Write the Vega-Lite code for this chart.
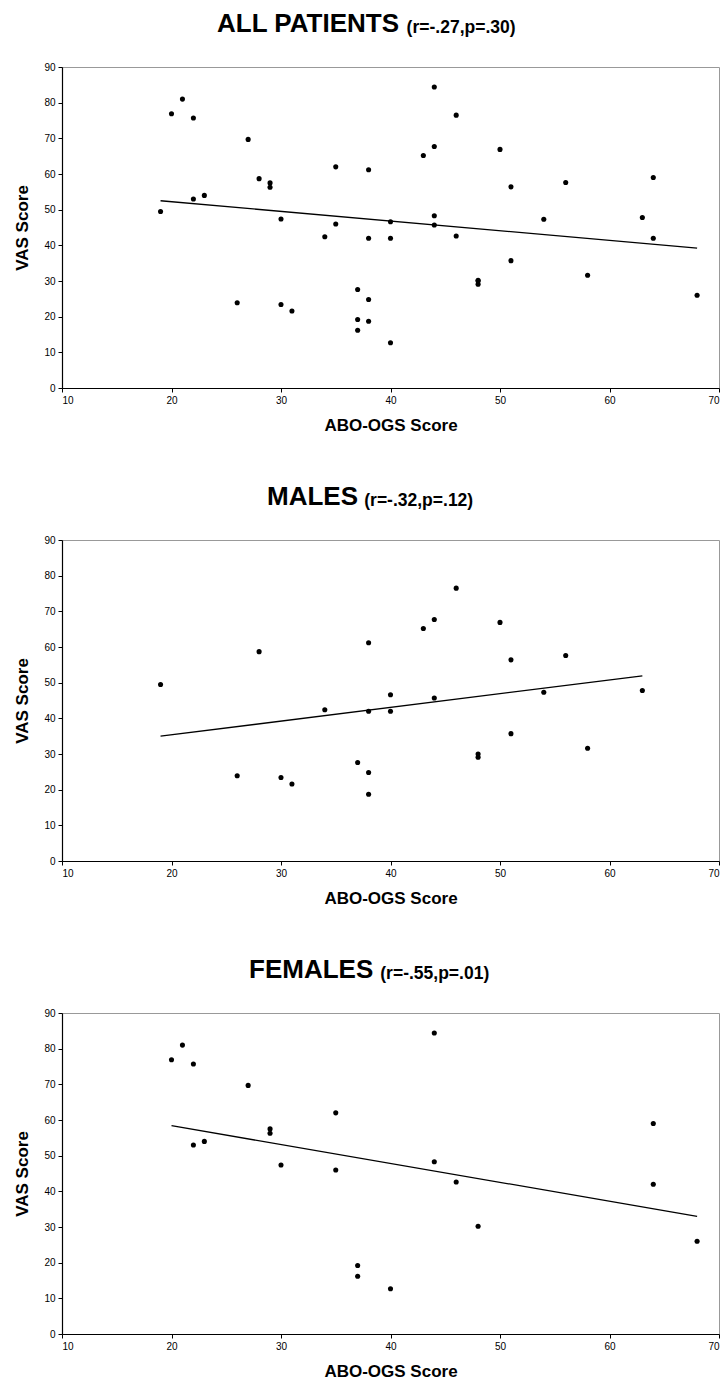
{
  "$schema": "https://vega.github.io/schema/vega-lite/v6.json",
  "background": "white",
  "padding": {"left": 13, "top": 10, "right": 5, "bottom": 5},
  "spacing": 49,
  "config": {
    "font": "Liberation Sans",
    "view": {"stroke": "#999999", "strokeWidth": 1},
    "axis": {
      "grid": false,
      "domainColor": "#000000",
      "domainWidth": 1.2,
      "tickColor": "#000000",
      "tickSize": 4,
      "labelColor": "#000000",
      "labelFont": "Liberation Sans",
      "labelFontSize": 10,
      "labelPadding": 3,
      "labelOverlap": false,
      "labelBound": false,
      "titleFont": "Liberation Sans",
      "titleFontSize": 17,
      "titleFontWeight": "bold",
      "titleColor": "#000000",
      "titlePadding": 12
    },
    "title": {
      "anchor": "start",
      "frame": "group",
      "font": "Liberation Sans",
      "fontSize": 26,
      "fontWeight": "bold",
      "color": "#000000",
      "subtitleFont": "Liberation Sans",
      "subtitleFontSize": 17.5,
      "subtitleFontWeight": "bold",
      "subtitleColor": "#000000",
      "subtitlePadding": -18.5,
      "offset": 25
    }
  },
  "datasets": {
    "pts": [
      {"x": 20, "y": 76.9, "sex": "F"},
      {"x": 21, "y": 81.0, "sex": "F"},
      {"x": 22, "y": 75.7, "sex": "F"},
      {"x": 22, "y": 53.0, "sex": "F"},
      {"x": 23, "y": 54.0, "sex": "F"},
      {"x": 27, "y": 69.7, "sex": "F"},
      {"x": 29, "y": 57.5, "sex": "F"},
      {"x": 29, "y": 56.3, "sex": "F"},
      {"x": 30, "y": 47.4, "sex": "F"},
      {"x": 35, "y": 62.0, "sex": "F"},
      {"x": 35, "y": 46.0, "sex": "F"},
      {"x": 37, "y": 19.2, "sex": "F"},
      {"x": 37, "y": 16.2, "sex": "F"},
      {"x": 40, "y": 12.7, "sex": "F"},
      {"x": 44, "y": 84.4, "sex": "F"},
      {"x": 44, "y": 48.3, "sex": "F"},
      {"x": 46, "y": 42.6, "sex": "F"},
      {"x": 48, "y": 30.2, "sex": "F"},
      {"x": 64, "y": 59.0, "sex": "F"},
      {"x": 64, "y": 42.0, "sex": "F"},
      {"x": 68, "y": 26.0, "sex": "F"},
      {"x": 19, "y": 49.5, "sex": "M"},
      {"x": 26, "y": 23.9, "sex": "M"},
      {"x": 28, "y": 58.7, "sex": "M"},
      {"x": 30, "y": 23.4, "sex": "M"},
      {"x": 31, "y": 21.6, "sex": "M"},
      {"x": 34, "y": 42.4, "sex": "M"},
      {"x": 37, "y": 27.6, "sex": "M"},
      {"x": 38, "y": 61.2, "sex": "M"},
      {"x": 38, "y": 42.0, "sex": "M"},
      {"x": 38, "y": 24.8, "sex": "M"},
      {"x": 38, "y": 18.7, "sex": "M"},
      {"x": 40, "y": 46.6, "sex": "M"},
      {"x": 40, "y": 42.0, "sex": "M"},
      {"x": 43, "y": 65.2, "sex": "M"},
      {"x": 44, "y": 67.7, "sex": "M"},
      {"x": 44, "y": 45.7, "sex": "M"},
      {"x": 46, "y": 76.5, "sex": "M"},
      {"x": 48, "y": 30.0, "sex": "M"},
      {"x": 48, "y": 29.1, "sex": "M"},
      {"x": 50, "y": 66.9, "sex": "M"},
      {"x": 51, "y": 56.4, "sex": "M"},
      {"x": 51, "y": 35.7, "sex": "M"},
      {"x": 54, "y": 47.3, "sex": "M"},
      {"x": 56, "y": 57.6, "sex": "M"},
      {"x": 58, "y": 31.6, "sex": "M"},
      {"x": 63, "y": 47.8, "sex": "M"}
    ],
    "fits": [
      {"g": "ALL", "x": 19, "y": 52.5},
      {"g": "ALL", "x": 68, "y": 39.2},
      {"g": "M", "x": 19, "y": 35.0},
      {"g": "M", "x": 63, "y": 51.9},
      {"g": "F", "x": 20, "y": 58.4},
      {"g": "F", "x": 68, "y": 33.0}
    ]
  },
  "vconcat": [
    {
      "width": 657,
      "height": 321,
      "title": {
        "text": "ALL PATIENTS",
        "subtitle": "\u200b\u00a0\u00a0\u00a0\u00a0\u00a0\u00a0\u00a0\u00a0\u00a0\u00a0\u00a0\u00a0\u00a0\u00a0\u00a0\u00a0\u00a0\u00a0\u00a0\u00a0\u00a0\u00a0\u00a0\u00a0\u00a0\u00a0\u00a0\u00a0\u00a0\u00a0\u00a0\u00a0\u00a0\u00a0\u00a0\u00a0\u00a0\u00a0\u00a0(r=-.27,p=.30)",
        "dx": 155
      },
      "encoding": {
        "x": {"field": "x", "type": "quantitative", "scale": {"domain": [10, 70], "nice": false}, "axis": {"values": [10, 20, 30, 40, 50, 60, 70], "title": "ABO-OGS Score"}},
        "y": {"field": "y", "type": "quantitative", "scale": {"domain": [0, 90], "nice": false}, "axis": {"values": [0, 10, 20, 30, 40, 50, 60, 70, 80, 90], "title": "VAS Score"}}
      },
      "layer": [
        {
          "data": {"name": "pts"},
          "mark": {"type": "circle", "size": 26, "color": "#000000", "opacity": 1}
        },
        {
          "data": {"name": "fits"},
          "transform": [{"filter": "datum.g == 'ALL'"}],
          "mark": {"type": "line", "color": "#000000", "strokeWidth": 1.3}
        }
      ]
    },
    {
      "width": 657,
      "height": 321,
      "title": {
        "text": "MALES",
        "subtitle": "\u200b\u00a0\u00a0\u00a0\u00a0\u00a0\u00a0\u00a0\u00a0\u00a0\u00a0\u00a0\u00a0\u00a0\u00a0\u00a0\u00a0\u00a0\u00a0\u00a0\u00a0(r=-.32,p=.12)",
        "dx": 205
      },
      "encoding": {
        "x": {"field": "x", "type": "quantitative", "scale": {"domain": [10, 70], "nice": false}, "axis": {"values": [10, 20, 30, 40, 50, 60, 70], "title": "ABO-OGS Score"}},
        "y": {"field": "y", "type": "quantitative", "scale": {"domain": [0, 90], "nice": false}, "axis": {"values": [0, 10, 20, 30, 40, 50, 60, 70, 80, 90], "title": "VAS Score"}}
      },
      "layer": [
        {
          "data": {"name": "pts"},
          "transform": [{"filter": "datum.sex == 'M'"}],
          "mark": {"type": "circle", "size": 26, "color": "#000000", "opacity": 1}
        },
        {
          "data": {"name": "fits"},
          "transform": [{"filter": "datum.g == 'M'"}],
          "mark": {"type": "line", "color": "#000000", "strokeWidth": 1.3}
        }
      ]
    },
    {
      "width": 657,
      "height": 321,
      "title": {
        "text": "FEMALES",
        "subtitle": "\u200b\u00a0\u00a0\u00a0\u00a0\u00a0\u00a0\u00a0\u00a0\u00a0\u00a0\u00a0\u00a0\u00a0\u00a0\u00a0\u00a0\u00a0\u00a0\u00a0\u00a0\u00a0\u00a0\u00a0\u00a0\u00a0\u00a0\u00a0(r=-.55,p=.01)",
        "dx": 187
      },
      "encoding": {
        "x": {"field": "x", "type": "quantitative", "scale": {"domain": [10, 70], "nice": false}, "axis": {"values": [10, 20, 30, 40, 50, 60, 70], "title": "ABO-OGS Score"}},
        "y": {"field": "y", "type": "quantitative", "scale": {"domain": [0, 90], "nice": false}, "axis": {"values": [0, 10, 20, 30, 40, 50, 60, 70, 80, 90], "title": "VAS Score"}}
      },
      "layer": [
        {
          "data": {"name": "pts"},
          "transform": [{"filter": "datum.sex == 'F'"}],
          "mark": {"type": "circle", "size": 26, "color": "#000000", "opacity": 1}
        },
        {
          "data": {"name": "fits"},
          "transform": [{"filter": "datum.g == 'F'"}],
          "mark": {"type": "line", "color": "#000000", "strokeWidth": 1.3}
        }
      ]
    }
  ]
}
